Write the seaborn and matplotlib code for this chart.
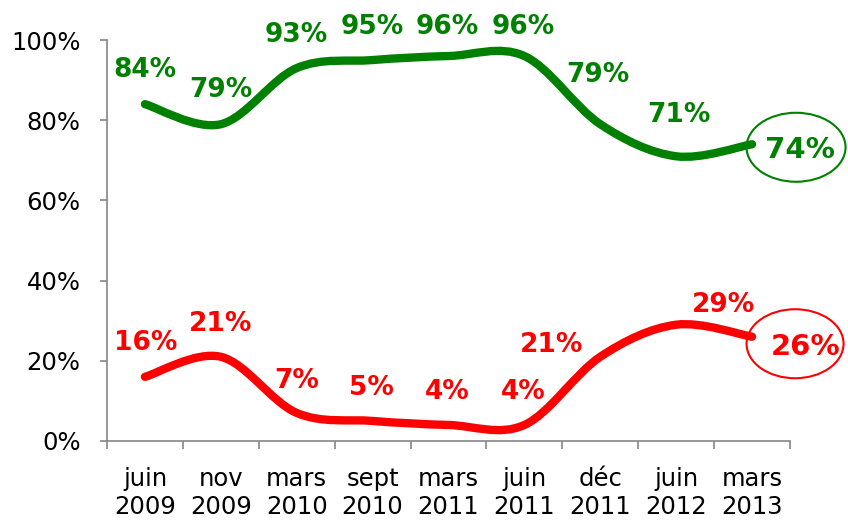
import numpy as np
import matplotlib
matplotlib.use("Agg")
import matplotlib.pyplot as plt
import matplotlib.transforms as mtransforms
from matplotlib.path import Path
from matplotlib.patches import PathPatch, Ellipse
import seaborn as sns

# data
periods = ["juin\n2009", "nov\n2009", "mars\n2010", "sept\n2010", "mars\n2011",
           "juin\n2011", "déc\n2011", "juin\n2012", "mars\n2013"]
green_vals = [84, 79, 93, 95, 96, 96, 79, 71, 74]
red_vals = [16, 21, 7, 5, 4, 4, 21, 29, 26]

GREEN = "#008000"
RED = "#FF0000"
GREY = "#868686"

# label offsets (pixels) from each point
green_off = [(0, 34), (0, 34), (0, 33), (0, 33), (-1, 29), (-1, 29), (-2, 49), (3, 41), (48, -6)]
red_off = [(1, 34), (0, 33), (0, 32), (-1, 33), (-1, 33), (-1, 33), (-49, 12), (47, 20), (54, -10)]

sns.set_theme(style="white")
plt.rcParams["font.family"] = ["DejaVu Sans"]


def smooth_path(xs, ys):
    # Catmull-Rom style bezier through the points (like Excel smoothed lines)
    pts = np.column_stack([xs, ys]).astype(float)
    n = len(pts)
    verts = [pts[0]]
    codes = [Path.MOVETO]
    for i in range(n - 1):
        p0 = pts[max(i - 1, 0)]
        p1 = pts[i]
        p2 = pts[i + 1]
        p3 = pts[min(i + 2, n - 1)]
        verts += [p1 + (p2 - p0) / 6, p2 - (p3 - p1) / 6, p2]
        codes += [Path.CURVE4] * 3
    return Path(verts, codes)


fig = plt.figure(figsize=(8.48, 5.2), dpi=100)
ax = fig.add_axes([107 / 848, 79 / 520, 683 / 848, 401 / 520])

x = np.arange(len(periods))
for vals, color in [(green_vals, GREEN), (red_vals, RED)]:
    ax.add_patch(PathPatch(smooth_path(x, vals), fill=False, edgecolor=color,
                           lw=6, capstyle="round", joinstyle="round"))

for vals, offs, color in [(green_vals, green_off, GREEN), (red_vals, red_off, RED)]:
    for i, (v, off) in enumerate(zip(vals, offs)):
        last = i == len(vals) - 1
        ax.annotate(f"{v}%", (x[i], v), xytext=off, textcoords="offset pixels",
                    ha="center", va="center", color=color, fontweight="bold",
                    fontsize=21 if last else 19, annotation_clip=False)

# circles around the last values
for vals, color, off, size in [(green_vals, GREEN, (44, -3), (99, 69)),
                               (red_vals, RED, (43, -7), (97, 69))]:
    tr = mtransforms.Affine2D().translate(*off) + \
        mtransforms.ScaledTranslation(x[-1], vals[-1], ax.transData)
    fig.add_artist(Ellipse((0, 0), size[0], size[1], transform=tr,
                           fill=False, edgecolor=color, lw=1.5))

ax.set_xlim(-0.5, len(periods) - 0.5)
ax.set_ylim(0, 100)
ax.set_yticks(range(0, 101, 20))
ax.set_yticklabels([f"{t}%" for t in range(0, 101, 20)])
ax.set_xticks(x)
ax.set_xticklabels(periods, linespacing=1.18)
ax.set_xticks(np.arange(-0.5, len(periods)), minor=True)

for side in ["top", "right"]:
    ax.spines[side].set_visible(False)
for side in ["left", "bottom"]:
    ax.spines[side].set_color(GREY)
    ax.spines[side].set_linewidth(1.2)

ax.tick_params(axis="y", left=True, length=5, width=1.2, color=GREY, pad=14,
               labelsize=17.5, labelcolor="black")
ax.tick_params(axis="x", which="major", bottom=True, length=0, pad=19,
               labelsize=17.5, labelcolor="black")
ax.tick_params(axis="x", which="minor", bottom=True, length=6, width=1.2, color=GREY)
ax.grid(False)

fig.savefig("out.png", dpi=100)
